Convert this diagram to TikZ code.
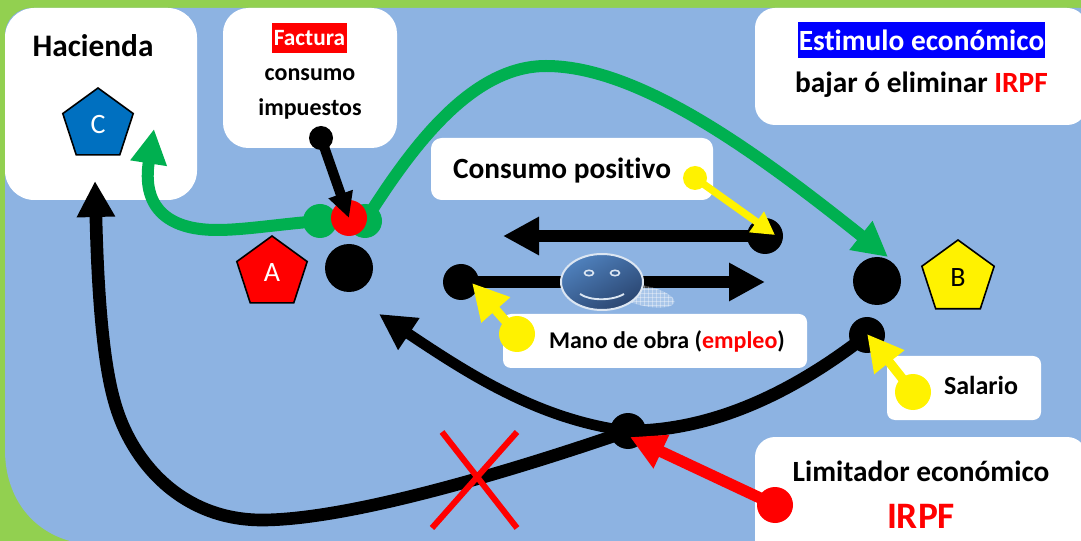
\documentclass[tikz,border=0pt]{standalone}
\usepackage{fontspec}
\setmainfont[Ligatures=NoCommon]{Carlito}
\usetikzlibrary{arrows.meta,shapes.geometric,patterns}
\definecolor{bggreen}{HTML}{92D050}
\definecolor{bgblue}{HTML}{8DB3E2}
\definecolor{cgreen}{HTML}{00B050}
\definecolor{cblue}{HTML}{0070C0}
\definecolor{facetop}{HTML}{4F81BD}
\definecolor{facelow}{HTML}{2A4570}
\definecolor{faceline}{HTML}{DCE6F2}
\tikzset{
  x=.75pt,y=-.75pt,
  whitebox/.style={fill=white,rounded corners=#1},
  label bold/.style={font=\fontsize{#1}{#1}\selectfont\bfseries,inner sep=0pt,text=black},
  penta/.style={regular polygon,regular polygon sides=5,draw=black,line width=1.2pt,minimum size=55.5pt,inner sep=0pt,font=\fontsize{21}{21}\selectfont,text=white},
  dot/.style={circle,fill=#1,inner sep=0pt,draw=none},
  dot/.default=black,
  d36/.style={minimum size=27pt},
  d48/.style={minimum size=36pt},
  d24/.style={minimum size=18pt},
  d34/.style={minimum size=25.5pt},
  bigblack/.style={draw=black,line width=9.5pt,-{Triangle[length=27pt,width=27pt]}},
  biggreen/.style={draw=cgreen,line width=9pt,-{Triangle[length=26pt,width=26pt]}},
  yarrow/.style={draw=yellow,line width=7pt,-{Triangle[length=27pt,width=27pt]}},
}
\begin{document}
\begin{tikzpicture}
\useasboundingbox (0,0) rectangle (1081,541);
\clip (0,0) rectangle (1081,541);
\fill[bggreen] (0,0) rectangle (1081,541);
\fill[bgblue] (32,8) -- (1081,8) -- (1081,541) -- (70,541) .. controls (30,530) and (5,495) .. (5,450) -- (5,35) .. controls (5,20) and (17,8) .. (32,8) -- cycle;
% boxes
\path[whitebox=22pt] (5,8) rectangle (197,200);
\path[whitebox=19pt] (223,8) rectangle (397,148);
\path[whitebox=15pt] (755,8) rectangle (1087,125);
\path[whitebox=8pt] (431,138) rectangle (713,200);
\path[whitebox=6pt] (503,314) rectangle (807,368);
\path[whitebox=6pt] (887,356) rectangle (1041,420);
\path[whitebox=15pt] (755,437) rectangle (1087,570);
% texts
\node[label bold=23.5] (hacienda) at (93,46) {Hacienda};
\node[label bold=17.5,fill=red,text=white,minimum width=56.25pt,minimum height=22.5pt] (factura) at (309.5,38) {Factura};
\node[label bold=18] (consumo) at (310,75) {consumo};
\node[label bold=18] (impuestos) at (310,109) {impuestos};
\node[label bold=22,fill=blue,text=white,minimum width=185pt,minimum height=27pt] (estimulo) at (921.5,40) {Estimulo económico};
\node[label bold=22] (bajar) at (921.5,85) {bajar ó eliminar \textcolor{red}{IRPF}};
\node[label bold=22] (positivo) at (562,171) {Consumo positivo};
\node[label bold=18] (mano) at (667,341) {Mano de obra (\textcolor{red}{empleo})};
\node[label bold=19.5] (salario) at (981,385) {Salario};
\node[label bold=22] (limitador) at (921,471) {Limitador económico};
\node[label bold=28,text=red] (irpf) at (921,516) {IRPF};
% pentagons
\node[penta,fill=cblue] (C) at (98,125) {\raisebox{-5pt}{C}};
\node[penta,fill=red] (A) at (272,273) {\raisebox{-5pt}{A}};
\node[penta,fill=yellow,text=black,minimum size=57pt] (B) at (958,278) {\raisebox{-5pt}{B}};
% free ends
\coordinate (greentip) at (154,129);
\coordinate (bluetip) at (888,257);
\coordinate (hactip) at (95,181);
\coordinate (atip) at (379,314);
\coordinate (consumotip) at (503,236);
\coordinate (manotip) at (765,282);
\coordinate (y1tip) at (775,235);
\coordinate (y2tip) at (472,283);
\coordinate (y3tip) at (867,334);
\coordinate (rtip) at (630,437);
% dots
\node[dot,d48] (adot) at (349,268) {};
\node[dot,d48] (bdot) at (877,281) {};
\node[dot,d36] (sdot) at (867,335) {};
\node[dot,d36] (ldot) at (628,431) {};
\node[dot,d36] (cdot) at (765,236) {};
\node[dot,d36] (mdot) at (461,282) {};
\node[dot=cgreen,d34] (gleft) at (320,221) {};
\node[dot=cgreen,d34] (gright) at (365,221) {};
% big curves
\draw[biggreen] (gleft.center) .. controls (280,224) and (245,230) .. (217,230)
  .. controls (165,230) and (142,205) .. (greentip);
\draw[biggreen] (gright.center) .. controls (410,150) and (470,66) .. (546,66)
  .. controls (640,66) and (760,155) .. (bluetip);
\draw[bigblack] (sdot.center) .. controls (790,395) and (710,431) .. (628,431)
  .. controls (550,458) and (360,520) .. (262,520)
  .. controls (180,520) and (130,460) .. (114,400)
  .. controls (100,350) and (97,260) .. (hactip);
\draw[bigblack,line width=8pt] (ldot.center) .. controls (540,420) and (470,375) .. (atip);
% straight arrows
\draw[bigblack,line width=9pt] (cdot.center) -- (consumotip);
\draw[bigblack,line width=9pt] (mdot.center) -- (manotip);
% red X
\draw[red,line width=4.5pt] (517,432) -- (432,528);
\draw[red,line width=4.5pt] (442,432) -- (517,528);
% smiley
\path[fill=white,opacity=.25,rotate around={-12:(645,296)}] (645,296) ellipse [x radius=30,y radius=10];
\begin{scope}[opacity=.35]
\path[pattern=grid,pattern color=white,rotate around={-12:(645,296)}] (645,296) ellipse [x radius=30,y radius=10];
\end{scope}
\node[ellipse,minimum width=61.5pt,minimum height=42pt,inner sep=0pt,draw=faceline,line width=1.5pt,top color=facetop,bottom color=facelow,shading angle=30] (face) at (602,282) {};
\draw[faceline,line width=1.2pt] (589,273) ellipse [x radius=4.5,y radius=2.7];
\draw[faceline,line width=1.2pt] (615,273) ellipse [x radius=4.5,y radius=2.7];
\draw[faceline,line width=1.4pt] (580,294) .. controls (590,301) and (612,301) .. (624,294);
% red and green top
\node[dot=red,minimum size=27pt] (rdot) at (349,218) {};
\node[dot,d24] (fdot) at (321,138) {};
\draw[draw=black,line width=7.5pt,-{Triangle[length=19pt,width=18pt]}] (fdot.center) -- (rdot.center);
% yellow
\node[dot=yellow,d24] (y1) at (695,178) {};
\node[dot=yellow,d36] (y2) at (517,334) {};
\node[dot=yellow,d36] (y3) at (913,392) {};
\draw[yarrow,line width=5.5pt,-{Triangle[length=17pt,width=18pt]}] (y1.center) -- (y1tip);
\draw[yarrow] (y2.center) -- (y2tip);
\draw[yarrow] (y3.center) -- (y3tip);
% red arrow
\node[dot=red,d36] (rbig) at (775,505) {};
\draw[draw=red,line width=8.5pt,-{Triangle[length=26pt,width=26pt]}] (rbig.center) -- (rtip);
\end{tikzpicture}
\end{document}
